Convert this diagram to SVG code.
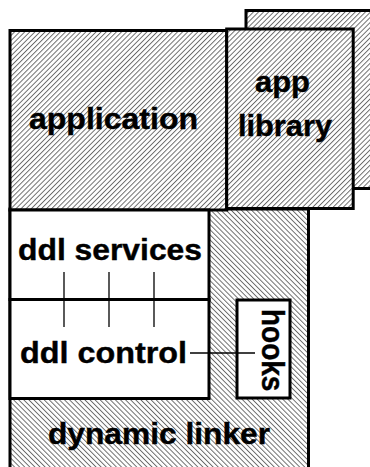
<svg xmlns="http://www.w3.org/2000/svg" width="370" height="467" viewBox="0 0 370 467">
<style>
.box{stroke:#000;stroke-width:3}
.hr{fill:url(#hatchR)}
.hl{fill:url(#hatchL)}
.wh{fill:#fff}
.t{font-family:"Liberation Sans",Arial,sans-serif;font-weight:bold;font-size:29px;fill:#000;stroke:#000;stroke-width:0.4}
.c{stroke:#000;stroke-width:1.3;fill:none}
</style>
<defs>
<pattern id="hatchR" width="3.6" height="3.6" patternUnits="userSpaceOnUse" patternTransform="rotate(45)">
<rect width="3.6" height="3.6" fill="#fff"/>
<line x1="0.5" y1="0" x2="0.5" y2="3.6" stroke="#333" stroke-width="0.7"/>
</pattern>
<pattern id="hatchL" width="3.6" height="3.6" patternUnits="userSpaceOnUse" patternTransform="rotate(-45)">
<rect width="3.6" height="3.6" fill="#fff"/>
<line x1="0.5" y1="0" x2="0.5" y2="3.6" stroke="#333" stroke-width="0.7"/>
</pattern>
</defs>
<g id="app-library-shadow">
<rect class="box hr" x="246" y="10.5" width="140" height="178"/>
</g>
<g id="dynamic-linker">
<rect class="box hl" x="10" y="209" width="298.5" height="270"/>
<text class="t" x="48" y="444" textLength="222" lengthAdjust="spacingAndGlyphs">dynamic linker</text>
</g>
<g id="application">
<rect class="box hr" x="10" y="30.5" width="216.7" height="179.5"/>
<text class="t" x="29" y="129" textLength="169" lengthAdjust="spacingAndGlyphs">application</text>
</g>
<g id="app-library">
<rect class="box hr" x="226.7" y="29" width="126.5" height="179.5"/>
<text class="t" x="255" y="92" textLength="55" lengthAdjust="spacingAndGlyphs">app</text>
<text class="t" x="238" y="136" textLength="94" lengthAdjust="spacingAndGlyphs">library</text>
</g>
<g id="ddl-services">
<rect class="box wh" x="10" y="210" width="199" height="89.5"/>
<text class="t" x="18" y="260" textLength="184" lengthAdjust="spacingAndGlyphs">ddl services</text>
</g>
<g id="ddl-control">
<rect class="box wh" x="10" y="299.5" width="199" height="99"/>
<text class="t" x="20" y="363" textLength="167" lengthAdjust="spacingAndGlyphs">ddl control</text>
</g>
<g id="hooks">
<rect class="box wh" x="237" y="300" width="53" height="98"/>
<text class="t" style="font-size:28px" transform="translate(262,309) scale(1.1,1) rotate(90)">hooks</text>
</g>
<g id="connectors">
<line class="c" x1="64" y1="272" x2="64" y2="327"/>
<line class="c" x1="109" y1="272" x2="109" y2="327"/>
<line class="c" x1="154" y1="272" x2="154" y2="327"/>
<line class="c" x1="190" y1="353" x2="255" y2="353"/>
</g>
</svg>
